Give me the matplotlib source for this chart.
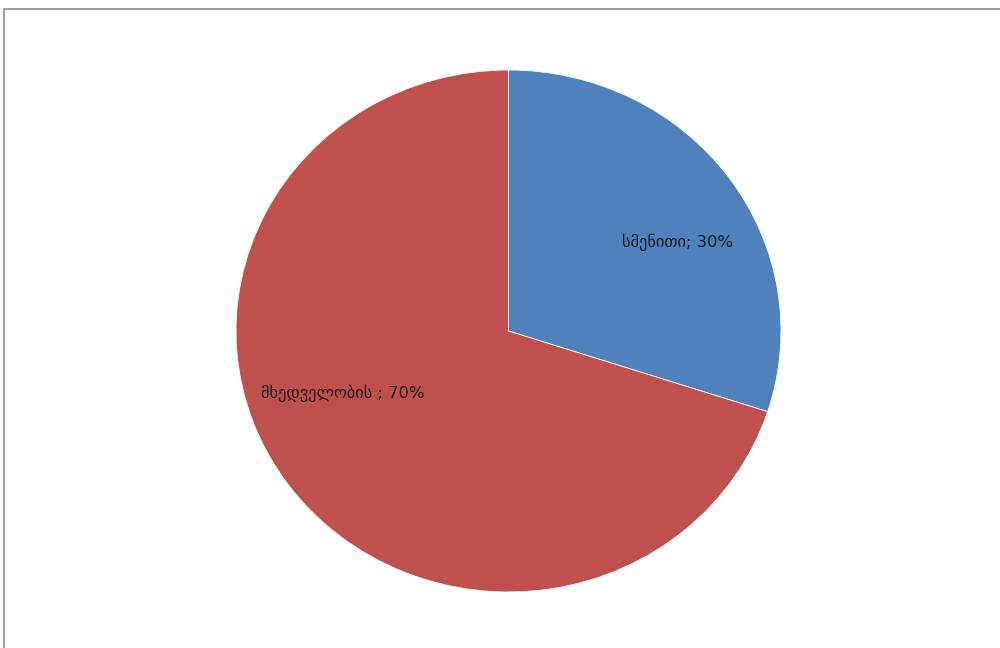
import matplotlib.pyplot as plt
from matplotlib.patches import Rectangle

categories = ["სმენითი", "მხედველობის "]
values = [30, 70]
colors = ["#4F81BD", "#C0504D"]

plt.rcParams['font.family'] = ['DejaVu Sans']

W, H = 1000, 648
fig = plt.figure(figsize=(10, 6.48), dpi=100)

# outer chart frame
fig.patches.append(Rectangle((4 / W, -0.1), 1.1, 1 - 9 / H + 0.1,
                             transform=fig.transFigure, fill=False,
                             edgecolor="#8c8c8c", linewidth=1.2))

# pie bbox in pixels (slightly squashed vertically, as in the reference)
left, right, top, bottom = 236, 781, 70, 592
ax = fig.add_axes([left / W, (H - bottom) / H, (right - left) / W, (bottom - top) / H])

ax.pie(values, colors=colors, startangle=90, counterclock=False,
       wedgeprops=dict(edgecolor="white", linewidth=0.6))
ax.set_aspect('auto')
ax.set_xlim(-1, 1)
ax.set_ylim(-1, 1)
ax.axis('off')

total = sum(values)
label_pos = [(0.62, 0.34), (-0.61, -0.24)]
for cat, val, (x, y) in zip(categories, values, label_pos):
    ax.text(x, y, f"{cat}; {round(100 * val / total)}%", ha="center", va="center",
            fontsize=11.8, color="#1a1a1a")

fig.savefig("out.png", dpi=100)
